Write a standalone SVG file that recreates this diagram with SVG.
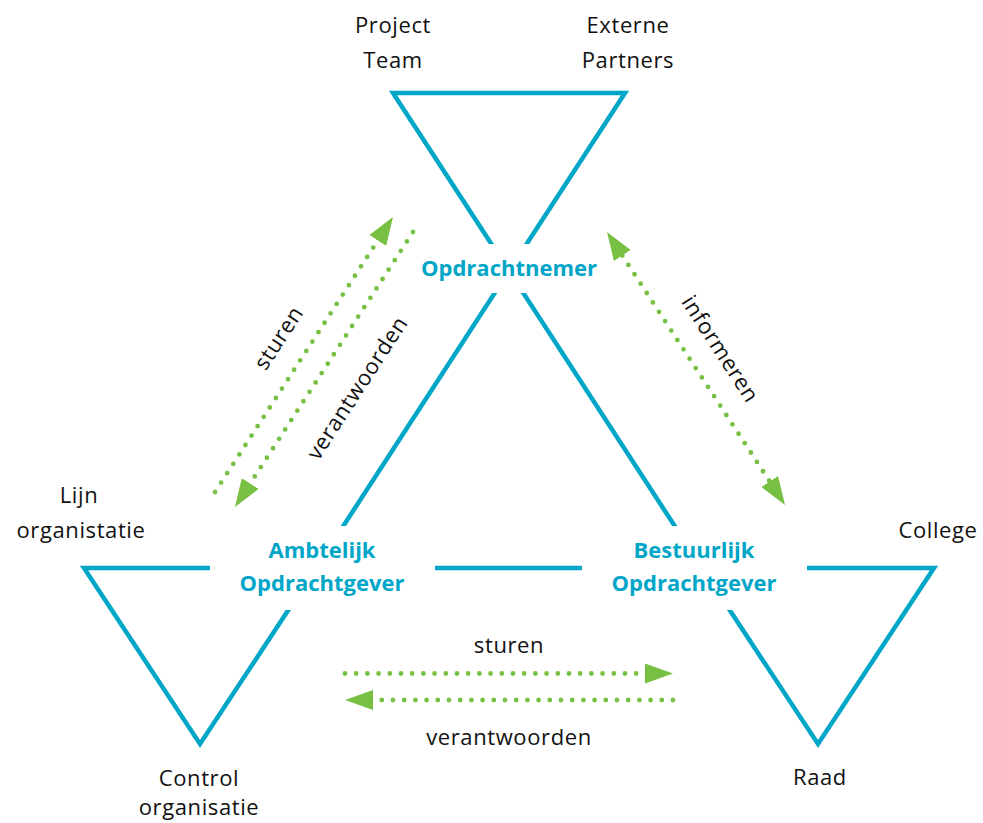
<svg xmlns="http://www.w3.org/2000/svg" width="983" height="823" viewBox="0 0 983 823">
  <style>
    .frame { fill: none; stroke: #00a6c8; stroke-width: 4.5; stroke-linejoin: miter; }
    .back { fill: #ffffff; }
    .role { font-family: "Open Sans", "Noto Sans", sans-serif; font-weight: 700; font-size: 22px; fill: #00a6c8; text-anchor: middle; }
    .label { font-family: "Open Sans", "Noto Sans", sans-serif; font-size: 22px; letter-spacing: 0.6px; fill: #111111; text-anchor: middle; }
    .dots { fill: none; stroke: #77c043; stroke-width: 4.8; stroke-linecap: round; stroke-dasharray: 0 11.2; }
  </style>
  <defs>
    <marker id="head" viewBox="0 0 28 20" refX="0" refY="10" markerWidth="28" markerHeight="20" markerUnits="userSpaceOnUse" orient="auto-start-reverse">
      <path d="M0,0 L28,10 L0,20 Z" fill="#77c043"/>
    </marker>
  </defs>

  <rect width="983" height="823" fill="#ffffff"/>

  <!-- triangle frame: three long lines plus the outer edges of the small triangles -->
  <g id="frame" class="frame">
    <path d="M509,271 L393,93 L625,93 L509,271"/>
    <path d="M316,568 L84,568 L200,744 L316,568"/>
    <path d="M702,568 L934,568 L818,744 L702,568"/>
    <path d="M509,271 L316,568 M316,568 L702,568 M702,568 L509,271"/>
  </g>

  <!-- corner labels -->
  <g id="project-team">
    <text class="label" x="393" y="33">Project</text>
    <text class="label" x="393" y="68">Team</text>
  </g>
  <g id="externe-partners">
    <text class="label" x="628" y="33">Externe</text>
    <text class="label" x="628" y="68">Partners</text>
  </g>
  <g id="lijn-organisatie">
    <text class="label" x="79" y="503">Lijn</text>
    <text class="label" x="81" y="538">organistatie</text>
  </g>
  <g id="college">
    <text class="label" x="938" y="538">College</text>
  </g>
  <g id="control-organisatie">
    <text class="label" x="199" y="786">Control</text>
    <text class="label" x="199" y="815">organisatie</text>
  </g>
  <g id="raad">
    <text class="label" x="820" y="785">Raad</text>
  </g>

  <!-- role nodes, each with a white backing that interrupts the frame lines -->
  <g id="opdrachtnemer">
    <rect class="back" x="414" y="244" width="190" height="49"/>
    <text class="role" x="509" y="276">Opdrachtnemer</text>
  </g>
  <g id="ambtelijk-opdrachtgever">
    <rect class="back" x="210" y="526" width="225" height="84"/>
    <text class="role" x="322" y="558">Ambtelijk</text>
    <text class="role" x="322" y="591">Opdrachtgever</text>
  </g>
  <g id="bestuurlijk-opdrachtgever">
    <rect class="back" x="582" y="526" width="225" height="84"/>
    <text class="role" x="694" y="558">Bestuurlijk</text>
    <text class="role" x="694" y="591">Opdrachtgever</text>
  </g>

  <!-- dotted relation arrows -->
  <g id="connectors">
    <path class="dots" d="M215,492 L377.8,240.5" marker-end="url(#head)"/>
    <path class="dots" d="M413,232 L250.2,483.5" marker-end="url(#head)"/>
    <path class="dots" d="M622.3,255.5 L769.7,481.5" marker-start="url(#head)" marker-end="url(#head)"/>
    <path class="dots" d="M345,673.5 L645,673.5" marker-end="url(#head)"/>
    <path class="dots" d="M673,700 L373,700" marker-end="url(#head)"/>

    <text class="label" transform="translate(285,342) rotate(-57)">sturen</text>
    <text class="label" transform="translate(363.5,392) rotate(-57)">verantwoorden</text>
    <text class="label" transform="translate(714,353) rotate(57)">informeren</text>
    <text class="label" x="509" y="653">sturen</text>
    <text class="label" x="509" y="745">verantwoorden</text>
  </g>
</svg>
